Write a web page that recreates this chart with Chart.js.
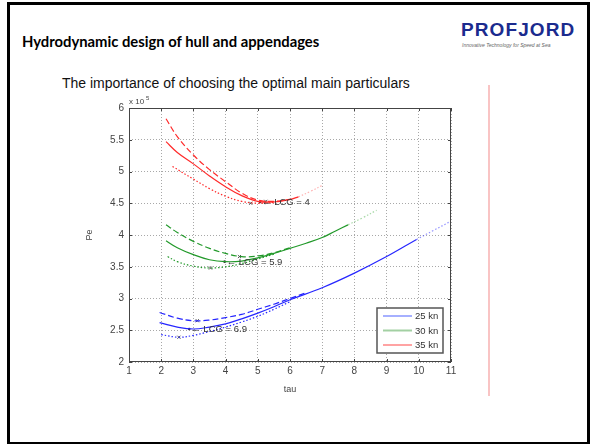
<!DOCTYPE html>
<html lang="en">
<head>
  <meta charset="UTF-8" />
  <title>Hydrodynamic design of hull and appendages</title>
  <script src="https://cdn.jsdelivr.net/npm/chart.js"></script>
  <style>
    * {
      margin: 0;
      padding: 0;
      box-sizing: border-box;
    }

    body {
      width: 592px;
      height: 445px;
      background: #fff;
      position: relative;
      overflow: hidden;
      font-family: 'Liberation Sans', Arial, sans-serif;
    }

    .frame {
      position: absolute;
      left: 7px;
      top: 2px;
      width: 583px;
      height: 442px;
      border: 3px solid #000;
      border-bottom-width: 2px;
    }

    .title {
      position: absolute;
      left: 22px;
      top: 32px;
      font-family: Lato, 'Open Sans', sans-serif;
      font-weight: bold;
      font-size: 14.8px;
      color: #000;
      white-space: nowrap;
    }

    .logo {
      position: absolute;
      left: 461px;
      top: 19px;
      font-family: 'Liberation Sans', Arial, sans-serif;
      font-weight: bold;
      font-size: 19px;
      letter-spacing: 1.1px;
      color: #1b2b8e;
    }

    .tagline {
      position: absolute;
      left: 462px;
      top: 42px;
      font-size: 5px;
      font-style: italic;
      color: #666;
      white-space: nowrap;
    }

    .subtitle {
      position: absolute;
      left: 62px;
      top: 75px;
      font-size: 14px;
      color: #111;
      white-space: nowrap;
    }

    .divider {
      position: absolute;
      left: 488px;
      top: 85px;
      width: 2px;
      height: 311px;
      background: #f9c4c4;
    }

    #chart {
      position: absolute;
      left: 80px;
      top: 95px;
    }
  </style>
</head>
<body>
  <div class="frame"></div>
  <div class="title">Hydrodynamic design of hull and appendages</div>
  <div class="logo">PROFJORD</div>
  <div class="tagline">Innovative Technology for Speed at Sea</div>
  <div class="subtitle">The importance of choosing the optimal main particulars</div>
  <div class="divider"></div>
  <canvas id="chart" width="390" height="300"></canvas>

  <script>
    // speed series (legend)
    const speeds = ['25 kn', '30 kn', '35 kn'];
    const lcgValues = ['6.9', '5.9', '4'];

    // 35 kn
    const redDashX = [2.15, 2.5, 3, 3.5, 4, 4.5, 5, 5.5, 6];
    const redDashY = [5.83, 5.55, 5.26, 5.03, 4.84, 4.66, 4.55, 4.53, 4.56];
    const redSolidX = [2.15, 2.5, 3, 3.5, 4, 4.5, 5, 5.5, 6, 6.26];
    const redSolidY = [5.47, 5.3, 5.12, 4.93, 4.76, 4.62, 4.53, 4.52, 4.56, 4.6];
    const redDotX = [2.35, 3, 3.5, 4, 4.5, 5, 5.5];
    const redDotY = [5.08, 4.88, 4.73, 4.61, 4.53, 4.5, 4.51];
    const redExtX = [6.26, 6.65, 7.03];
    const redExtY = [4.6, 4.69, 4.79];

    // 30 kn
    const greenDashX = [2.15, 2.5, 3, 3.5, 4, 4.5, 5, 5.5, 6];
    const greenDashY = [4.16, 4.04, 3.9, 3.79, 3.71, 3.66, 3.67, 3.72, 3.8];
    const greenSolidX = [2.15, 2.5, 3, 3.5, 4, 4.5, 5, 5.5, 6, 6.5, 7, 7.4, 7.8];
    const greenSolidY = [3.91, 3.8, 3.69, 3.61, 3.58, 3.59, 3.64, 3.71, 3.79, 3.87, 3.96, 4.06, 4.16];
    const greenDotX = [2.2, 2.5, 3, 3.5, 4, 4.5, 5, 5.5];
    const greenDotY = [3.66, 3.58, 3.51, 3.48, 3.5, 3.55, 3.62, 3.7];
    const greenExtX = [7.8, 8.25, 8.69];
    const greenExtY = [4.16, 4.27, 4.39];

    // 25 kn
    const blueDashX = [1.95, 2.5, 3, 3.5, 4, 4.5, 5, 5.5, 6, 6.5];
    const blueDashY = [2.78, 2.69, 2.65, 2.66, 2.7, 2.75, 2.83, 2.91, 3.0, 3.09];
    const blueSolidX = [1.95, 2.5, 3, 3.5, 4, 4.5, 5, 5.5, 6, 7, 8, 9, 9.93];
    const blueSolidY = [2.62, 2.55, 2.52, 2.55, 2.6, 2.68, 2.77, 2.87, 2.98, 3.17, 3.4, 3.66, 3.93];
    const blueDotX = [2.0, 2.55, 3, 3.5, 4, 4.5, 5, 5.5, 6];
    const blueDotY = [2.43, 2.39, 2.42, 2.48, 2.55, 2.63, 2.72, 2.83, 2.95];
    const blueExtX = [9.93, 10.45, 10.97];
    const blueExtY = [3.93, 4.07, 4.21];

    // minimum markers: x on dashed / dotted, dot on solid (label anchor)
    const crossX = [3.12, 2.55, 4.43, 3.53, 5.25, 4.78];
    const crossY = [2.65, 2.39, 3.66, 3.48, 4.53, 4.50];
    const optX = [2.87, 3.97, 5.07];
    const optY = [2.52, 3.58, 4.52];

    const lineColors = ['#2626ff', '#22992a', '#ff2a2a'];
    const extColors = ['rgba(60,60,255,0.55)', 'rgba(60,170,60,0.45)', 'rgba(255,80,80,0.45)'];
    const legendColors = ['#a6b0ff', '#a3d0a3', '#ffa3a3'];

    const pts = (xs, ys) => xs.map((x, i) => ({ x: x, y: ys[i] }));

    function curve(xs, ys, color, dash, width) {
      return {
        data: pts(xs, ys),
        borderColor: color,
        borderWidth: width || 1.2,
        borderDash: dash,
        pointRadius: 0,
        tension: 0.4,
        fill: false
      };
    }

    const datasets = [
      curve(blueDashX, blueDashY, lineColors[0], [6, 3]),
      curve(blueSolidX, blueSolidY, lineColors[0], []),
      curve(blueDotX, blueDotY, lineColors[0], [1.5, 2]),
      curve(blueExtX, blueExtY, extColors[0], [1.5, 2]),
      curve(greenDashX, greenDashY, lineColors[1], [6, 3]),
      curve(greenSolidX, greenSolidY, lineColors[1], []),
      curve(greenDotX, greenDotY, lineColors[1], [1.5, 2]),
      curve(greenExtX, greenExtY, extColors[1], [1.5, 2]),
      curve(redDashX, redDashY, lineColors[2], [6, 3]),
      curve(redSolidX, redSolidY, lineColors[2], []),
      curve(redDotX, redDotY, lineColors[2], [1.5, 2]),
      curve(redExtX, redExtY, extColors[2], [1.5, 2]),
      {
        data: pts(crossX, crossY),
        showLine: false,
        pointStyle: 'crossRot',
        pointRadius: 2.2,
        borderColor: '#555',
        borderWidth: 1
      },
      {
        data: pts(optX, optY),
        showLine: false,
        pointStyle: 'circle',
        pointRadius: 1.3,
        backgroundColor: '#333',
        borderColor: '#333',
        borderWidth: 0
      }
    ];

    const matlabAxes = {
      id: 'matlabAxes',
      afterDraw(chart) {
        const { ctx, chartArea: a, scales: { x, y } } = chart;
        ctx.save();

        // box with inward ticks
        ctx.strokeStyle = '#444';
        ctx.lineWidth = 1;
        ctx.setLineDash([]);
        ctx.strokeRect(a.left + 0.5, a.top + 0.5, a.right - a.left - 1, a.bottom - a.top - 1);
        ctx.beginPath();
        x.ticks.forEach(t => {
          const px = Math.round(x.getPixelForValue(t.value)) + 0.5;
          ctx.moveTo(px, a.bottom); ctx.lineTo(px, a.bottom - 3);
          ctx.moveTo(px, a.top); ctx.lineTo(px, a.top + 3);
        });
        y.ticks.forEach(t => {
          const py = Math.round(y.getPixelForValue(t.value)) + 0.5;
          ctx.moveTo(a.left, py); ctx.lineTo(a.left + 3, py);
          ctx.moveTo(a.right, py); ctx.lineTo(a.right - 3, py);
        });
        ctx.stroke();

        // exponent
        ctx.fillStyle = '#444';
        ctx.textBaseline = 'alphabetic';
        ctx.textAlign = 'left';
        ctx.font = '8px "Liberation Sans", Arial';
        ctx.fillText('x 10', a.left, a.top - 4);
        ctx.font = '6px "Liberation Sans", Arial';
        ctx.fillText('5', a.left + 17, a.top - 8);

        // LCG labels
        ctx.font = '9.5px "Liberation Sans", Arial';
        ctx.fillStyle = '#333';
        ctx.textBaseline = 'middle';
        optX.forEach((v, i) => {
          const px = x.getPixelForValue(v);
          const py = y.getPixelForValue(optY[i]);
          ctx.fillText('\u2190 LCG = ' + lcgValues[i], px + 2, py + 0.5);
        });

        // legend box
        const bw = 66, bh = 45;
        const bx = a.right - 8 - bw, by = a.bottom - 9 - bh;
        ctx.fillStyle = '#fff';
        ctx.fillRect(bx, by, bw, bh);
        ctx.strokeStyle = '#555';
        ctx.lineWidth = 1.5;
        ctx.strokeRect(bx, by, bw, bh);
        ctx.font = '9.5px "Liberation Sans", Arial';
        speeds.forEach((s, i) => {
          const ly = by + 8 + i * 14.5;
          ctx.strokeStyle = legendColors[i];
          ctx.lineWidth = 2;
          ctx.beginPath();
          ctx.moveTo(bx + 6, ly);
          ctx.lineTo(bx + 35, ly);
          ctx.stroke();
          ctx.fillStyle = '#333';
          ctx.fillText(s, bx + 38, ly + 0.5);
        });

        ctx.restore();
      }
    };

    const tickFont = { family: '"Liberation Sans", Arial', size: 10 };

    new Chart(document.getElementById('chart').getContext('2d'), {
      type: 'line',
      data: { datasets: datasets },
      options: {
        responsive: false,
        animation: false,
        layout: { padding: { top: 13, right: 19, left: 0, bottom: 0 } },
        plugins: {
          legend: { display: false },
          tooltip: { enabled: false }
        },
        scales: {
          x: {
            type: 'linear',
            min: 1,
            max: 11,
            ticks: { stepSize: 1, color: '#444', font: tickFont, padding: 3, maxRotation: 0 },
            grid: { color: '#a8a8a8', drawTicks: false },
            border: { display: false, dash: [1, 2] },
            title: { display: true, text: 'tau', color: '#444', font: { family: '"Liberation Sans", Arial', size: 9 }, padding: { top: 2, bottom: 0 } },
            afterFit(scale) { scale.height = 33; }
          },
          y: {
            min: 2,
            max: 6,
            ticks: { stepSize: 0.5, color: '#444', font: tickFont, padding: 5, callback: v => String(v) },
            grid: { color: '#a8a8a8', drawTicks: false },
            border: { display: false, dash: [1, 2] },
            title: { display: true, text: 'Pe', color: '#444', font: { family: '"Liberation Sans", Arial', size: 9 }, padding: { top: 4, bottom: 0 } },
            afterFit(scale) { scale.width = 49; }
          }
        }
      },
      plugins: [matlabAxes]
    });
  </script>
</body>
</html>
